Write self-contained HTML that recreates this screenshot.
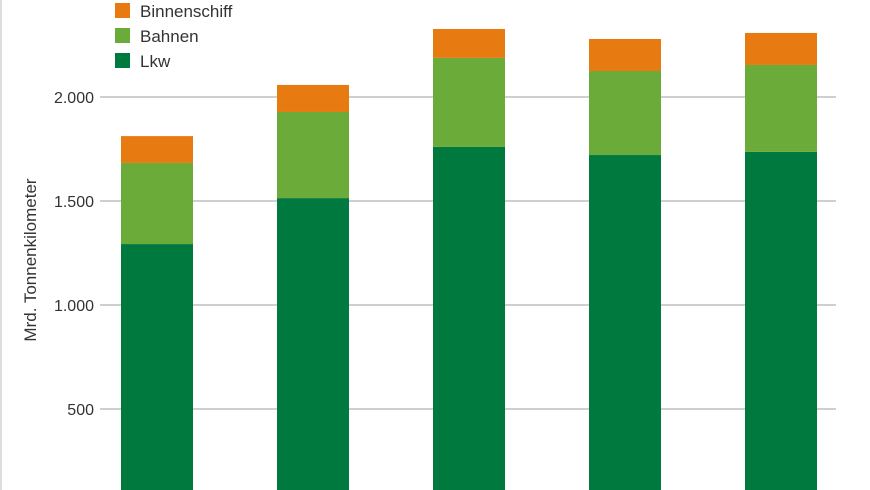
<!DOCTYPE html>
<html><head><meta charset="utf-8"><style>
body{margin:0;background:#fff;}
svg{display:block;font-family:"Liberation Sans",sans-serif;}
</style></head><body>
<svg id="chart" width="870" height="490">
<line x1="1" y1="0" x2="1" y2="490" stroke="#bbb"/>
<g id="grid"></g><g id="bars"></g><g id="ticks"></g>
<text x="36" y="260" transform="rotate(-90 36 260)" text-anchor="middle" font-size="17" fill="#333">Mrd. Tonnenkilometer</text>
<g id="legend"></g>
</svg>
<script>
const categories=["A","B","C","D","E"];
const lkw=[1293,1514,1760,1721,1736];
const bahnen=[390,414,428,404,418];
const binnen=[129,130,139,154,154];
const tickValues=[500,1000,1500,2000];
const tickLabels=["500","1.000","1.500","2.000"];
const seriesNames=["Binnenschiff","Bahnen","Lkw"];
const colors={Lkw:"#00793f",Bahnen:"#6aab3a",Binnenschiff:"#e87a12"};
const NS="http://www.w3.org/2000/svg";
const y=v=>513-v*0.208;
const x=i=>121+i*156;
const bw=72;
function mk(t,a,p){const e=document.createElementNS(NS,t);for(const k in a)e.setAttribute(k,a[k]);p.appendChild(e);return e;}
const grid=document.getElementById('grid'),ticks=document.getElementById('ticks'),bars=document.getElementById('bars'),leg=document.getElementById('legend');
tickValues.forEach((v,i)=>{
 const l=mk('line',{x1:100,x2:836,y1:y(v),y2:y(v),stroke:"#cfcfcf","stroke-width":2},grid);
 
 
 const t=mk('text',{x:94,y:y(v)+6,"text-anchor":"end","font-size":16,fill:"#333"},ticks);
 t.textContent=tickLabels[i];
 
 
});
categories.forEach((c,i)=>{
 let base=0;
 [["Lkw",lkw[i]],["Bahnen",bahnen[i]],["Binnenschiff",binnen[i]]].forEach(([s,v])=>{
  const r=mk('rect',{x:x(i),y:y(base+v),width:bw,height:v*0.208,fill:colors[s]},bars);
  
  
  base+=v;
 });
});
seriesNames.forEach((s,i)=>{
 const g=mk('g',{},leg);
 
 
 mk('rect',{x:115,y:3+i*25,width:15,height:15,fill:colors[s]},g);
 const t=mk('text',{x:140,y:17+i*25,"font-size":17,fill:"#333"},g);
 t.textContent=s;
});
</script>
</body></html>
